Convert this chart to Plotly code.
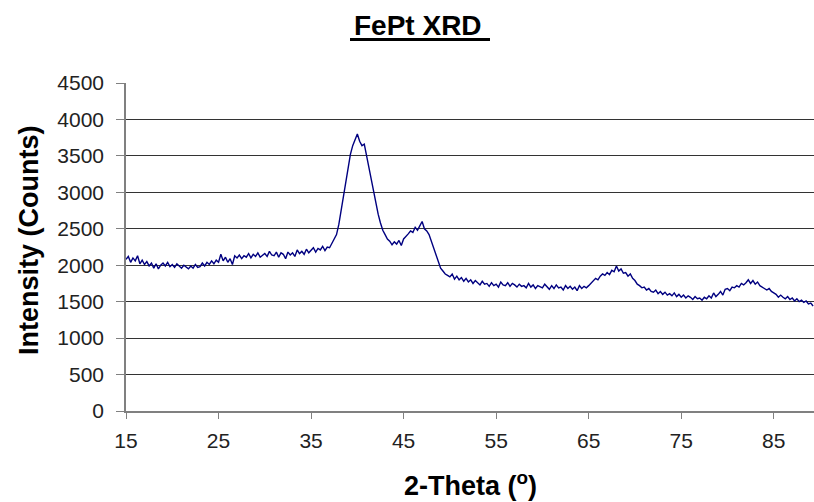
import plotly.graph_objects as go

# Intensity readings (counts), 0.25 degree steps from 15.00 to 89.25 (2-theta)
intensity = [
    2080, 2120, 2040, 2100,   # 15
    2060, 2130, 2020, 2070,   # 16
    2010, 2050, 1990, 2030,   # 17
    1960, 2020, 1950, 2000,   # 18
    2030, 1990, 2040, 1980,   # 19
    2010, 1970, 2020, 1990,   # 20
    1960, 2000, 1980, 1950,   # 21
    1990, 1960, 2010, 1970,   # 22
    1980, 2030, 1990, 2040,   # 23
    2010, 2060, 2020, 2070,   # 24
    2040, 2150, 2060, 2110,   # 25
    2040, 2090, 2010, 2130,   # 26
    2100, 2140, 2090, 2130,   # 27
    2110, 2160, 2100, 2150,   # 28
    2120, 2170, 2110, 2140,   # 29
    2160, 2120, 2190, 2140,   # 30
    2130, 2180, 2110, 2170,   # 31
    2150, 2090, 2180, 2140,   # 32
    2170, 2120, 2210, 2160,   # 33
    2190, 2150, 2220, 2170,   # 34
    2200, 2240, 2180, 2230,   # 35
    2210, 2260, 2200, 2250,   # 36
    2240, 2300, 2380, 2420,   # 37
    2560, 2750, 2950, 3150,   # 38
    3350, 3520, 3640, 3720,   # 39
    3800, 3700, 3640, 3660,   # 40
    3500, 3350, 3180, 3000,   # 41
    2850, 2700, 2580, 2480,   # 42
    2420, 2360, 2330, 2280,   # 43
    2320, 2290, 2340, 2270,   # 44
    2360, 2390, 2430, 2470,   # 45
    2450, 2520, 2480, 2540,   # 46
    2600, 2500, 2470, 2420,   # 47
    2330, 2230, 2150, 2050,   # 48
    1960, 1920, 1880, 1860,   # 49
    1840, 1880, 1810, 1850,   # 50
    1800, 1830, 1780, 1820,   # 51
    1770, 1800, 1750, 1790,   # 52
    1760, 1730, 1780, 1740,   # 53
    1750, 1710, 1760, 1720,   # 54
    1740, 1700, 1770, 1730,   # 55
    1720, 1760, 1710, 1750,   # 56
    1730, 1700, 1740, 1710,   # 57
    1720, 1690, 1750, 1700,   # 58
    1730, 1680, 1720, 1700,   # 59
    1690, 1740, 1700, 1670,   # 60
    1720, 1680, 1730, 1690,   # 61
    1700, 1660, 1720, 1680,   # 62
    1710, 1670, 1700, 1650,   # 63
    1720, 1680, 1710, 1690,   # 64
    1720, 1750, 1790, 1820,   # 65
    1800, 1850, 1880, 1860,   # 66
    1900, 1870, 1930, 1910,   # 67
    1990, 1920, 1950, 1890,   # 68
    1900, 1850, 1880, 1820,   # 69
    1790, 1740, 1720, 1690,   # 70
    1700, 1660, 1680, 1640,   # 71
    1630, 1660, 1610, 1640,   # 72
    1600, 1630, 1590, 1610,   # 73
    1580, 1620, 1570, 1600,   # 74
    1560, 1590, 1550, 1580,   # 75
    1560, 1530, 1570, 1540,   # 76
    1550, 1520, 1560, 1540,   # 77
    1580, 1550, 1620, 1570,   # 78
    1600, 1640, 1590, 1670,   # 79
    1680, 1650, 1700, 1690,   # 80
    1720, 1700, 1750, 1730,   # 81
    1760, 1800, 1750, 1790,   # 82
    1740, 1770, 1720, 1700,   # 83
    1690, 1660, 1680, 1640,   # 84
    1620, 1600, 1560, 1590,   # 85
    1560, 1540, 1570, 1530,   # 86
    1550, 1510, 1540, 1500,   # 87
    1520, 1490, 1510, 1470,   # 88
    1480, 1440,               # 89
]
two_theta = [round(15 + 0.25 * i, 2) for i in range(len(intensity))]

x_ticks = [15, 25, 35, 45, 55, 65, 75, 85]
y_ticks = [0, 500, 1000, 1500, 2000, 2500, 3000, 3500, 4000, 4500]

TITLE = "FePt XRD"
X_TITLE = "2-Theta (<sup>o</sup>)"
Y_TITLE = "Intensity (Counts)"

W, H = 814, 502
ML, MR, MT, MB = 126, 0, 83, 91
PW, PH = W - ML - MR, H - MT - MB


def px(x):
    return (x - ML) / PW


def py(y):
    return (H - MB - y) / PH


fig = go.Figure()
fig.add_trace(go.Scatter(
    x=two_theta, y=intensity, mode="lines",
    line=dict(color="#000080", width=1.4), showlegend=False,
))

fig.update_layout(
    width=W, height=H,
    margin=dict(l=ML, r=MR, t=MT, b=MB, autoexpand=False),
    paper_bgcolor="white", plot_bgcolor="white",
    font=dict(family="Arial, Liberation Sans, sans-serif", color="#222"),
    xaxis=dict(
        range=[15, 89.35], tickvals=x_ticks, ticktext=[str(v) for v in x_ticks],
        showgrid=False, zeroline=False, automargin=False,
        showline=True, linecolor="#808080", linewidth=1.5,
        ticks="outside", ticklen=6, tickcolor="#808080", tickwidth=1,
        ticklabelstandoff=4,
        tickfont=dict(size=21, color="#222"),
    ),
    yaxis=dict(
        range=[0, 4500], tickvals=y_ticks,
        showgrid=True, gridcolor="#333333", gridwidth=1, zeroline=False, automargin=False,
        showline=True, linecolor="#808080", linewidth=1.5,
        ticks="outside", ticklen=8, tickcolor="#808080", tickwidth=1,
        ticklabelstandoff=8,
        tickfont=dict(size=21, color="#222"),
    ),
    annotations=[
        dict(text="<b>" + TITLE + "</b>", xref="paper", yref="paper",
             x=px(418), y=py(25), xanchor="center", yanchor="middle",
             showarrow=False, font=dict(size=28, color="black")),
        dict(text="<b>" + X_TITLE + "</b>", xref="paper", yref="paper",
             x=px(470), y=py(484), xanchor="center", yanchor="middle",
             showarrow=False, font=dict(size=27, color="black")),
        dict(text="<b>" + Y_TITLE + "</b>", xref="paper", yref="paper",
             x=px(29), y=py(240), xanchor="center", yanchor="middle", textangle=-90,
             showarrow=False, font=dict(size=27, color="black")),
    ],
    shapes=[
        dict(type="line", xref="paper", yref="paper",
             x0=px(350), x1=px(490), y0=py(39.5), y1=py(39.5),
             line=dict(color="black", width=3)),
    ],
)

fig.write_html(
    "out.html",
    config={"displayModeBar": False},
    post_script="document.body.style.margin='0';document.body.style.padding='0';",
)
